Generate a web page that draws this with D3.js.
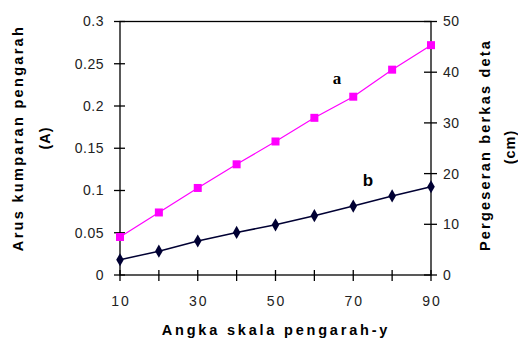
<!DOCTYPE html>
<html>
<head>
<meta charset="utf-8">
<script src="https://cdn.jsdelivr.net/npm/d3@7"></script>
<style>
  html, body { margin: 0; padding: 0; background: #fff; }
  svg text { font-family: "Liberation Sans", Arial, sans-serif; }
</style>
</head>
<body>
<svg id="chart" width="518" height="340"></svg>
<script>
// Scale readings on the y-deflector
const scaleReadings = [10, 20, 30, 40, 50, 60, 70, 80, 90];
// Series a: deflector coil current (A), left axis
const coilCurrent = [0.045, 0.074, 0.103, 0.131, 0.158, 0.186, 0.211, 0.243, 0.272];
// Series b: beam displacement (cm), right axis
const beamShift = [3.0, 4.7, 6.7, 8.4, 9.9, 11.7, 13.6, 15.6, 17.4];

const xTickLabels = [10, 30, 50, 70, 90];
const leftTicks = [0, 0.05, 0.1, 0.15, 0.2, 0.25, 0.3];
const rightTicks = [0, 10, 20, 30, 40, 50];

const svg = d3.select("#chart");
const L = 120, R = 431, T = 21.5, B = 275;

const x = d3.scaleLinear().domain([10, 90]).range([L, R]);
const yL = d3.scaleLinear().domain([0, 0.3]).range([B, T]);
const yR = d3.scaleLinear().domain([0, 50]).range([B, T]);

// plot frame
svg.append("rect")
  .attr("x", L).attr("y", T).attr("width", R - L).attr("height", B - T)
  .attr("fill", "none").attr("stroke", "#000").attr("stroke-width", 1.3);

// crossing tick marks
const tickStyle = s => s.attr("stroke", "#000").attr("stroke-width", 1.3);

svg.append("g").selectAll("line").data(scaleReadings).join("line")
  .attr("x1", d => x(d)).attr("x2", d => x(d))
  .attr("y1", B - 5).attr("y2", B + 6).call(tickStyle);

svg.append("g").selectAll("line").data(leftTicks).join("line")
  .attr("x1", L - 6).attr("x2", L + 5)
  .attr("y1", d => yL(d)).attr("y2", d => yL(d)).call(tickStyle);

svg.append("g").selectAll("line").data(rightTicks).join("line")
  .attr("x1", R - 7).attr("x2", R + 6)
  .attr("y1", d => yR(d)).attr("y2", d => yR(d)).call(tickStyle);

const labelStyle = s => s.attr("font-size", 14).attr("fill", "#222")
  .attr("letter-spacing", 0.5);

svg.append("g").selectAll("text").data(leftTicks).join("text")
  .attr("x", L - 16).attr("y", d => yL(d)).attr("dy", "0.35em")
  .attr("text-anchor", "end").text(d => d).call(labelStyle);

svg.append("g").selectAll("text").data(rightTicks).join("text")
  .attr("x", R + 12).attr("y", d => yR(d)).attr("dy", "0.35em")
  .attr("text-anchor", "start").text(d => d).call(labelStyle);

svg.append("g").selectAll("text").data(xTickLabels).join("text")
  .attr("x", d => x(d) + 1).attr("y", B + 26).attr("dy", "0.35em")
  .attr("text-anchor", "middle").text(d => d).call(labelStyle)
  .attr("letter-spacing", 2);

// axis titles
const titleStyle = s => s.attr("font-size", 14.5).attr("font-weight", "bold")
  .attr("fill", "#000").attr("text-anchor", "middle");

svg.append("text").attr("x", 276).attr("y", 330).attr("dy", "0.35em")
  .attr("letter-spacing", 2.8)
  .text("Angka skala pengarah-y").call(titleStyle);

svg.append("text").attr("transform", "translate(18,138) rotate(-90)")
  .attr("dy", "0.35em").attr("letter-spacing", 2.3)
  .text("Arus kumparan pengarah").call(titleStyle);
svg.append("text").attr("transform", "translate(45,138) rotate(-90)")
  .attr("dy", "0.35em").attr("letter-spacing", 1)
  .text("(A)").call(titleStyle);

svg.append("text").attr("transform", "translate(485,145) rotate(-90)")
  .attr("dy", "0.35em").attr("letter-spacing", 2.2)
  .text("Pergeseran berkas deta").call(titleStyle);
svg.append("text").attr("transform", "translate(510,147) rotate(-90)")
  .attr("dy", "0.35em").attr("letter-spacing", 1)
  .text("(cm)").call(titleStyle);

// series a: current
const lineA = d3.line().x((d, i) => x(scaleReadings[i])).y(d => yL(d));
svg.append("path").datum(coilCurrent).attr("d", lineA)
  .attr("fill", "none").attr("stroke", "#ff00ff").attr("stroke-width", 1.2);
svg.append("g").selectAll("rect").data(coilCurrent).join("rect")
  .attr("x", (d, i) => x(scaleReadings[i]) - 4)
  .attr("y", d => yL(d) - 4)
  .attr("width", 8).attr("height", 8).attr("fill", "#ff00ff");

// series b: beam displacement
const lineB = d3.line().x((d, i) => x(scaleReadings[i])).y(d => yR(d));
svg.append("path").datum(beamShift).attr("d", lineB)
  .attr("fill", "none").attr("stroke", "#000033").attr("stroke-width", 1.5);
svg.append("g").selectAll("path.m").data(beamShift).join("path")
  .attr("class", "m")
  .attr("d", d3.symbol(d3.symbolDiamond, 50))
  .attr("transform", (d, i) => `translate(${x(scaleReadings[i])},${yR(d)})`)
  .attr("fill", "#000033");

// series labels
svg.append("text").attr("x", 337).attr("y", 78).attr("dy", "0.35em")
  .attr("text-anchor", "middle").attr("font-size", 17).attr("font-weight", "bold")
  .style("font-family", "'Liberation Serif', 'DejaVu Serif', serif")
  .text("a");
svg.append("text").attr("x", 368).attr("y", 180).attr("dy", "0.35em")
  .attr("text-anchor", "middle").attr("font-size", 17).attr("font-weight", "bold")
  .text("b");
</script>
</body>
</html>
